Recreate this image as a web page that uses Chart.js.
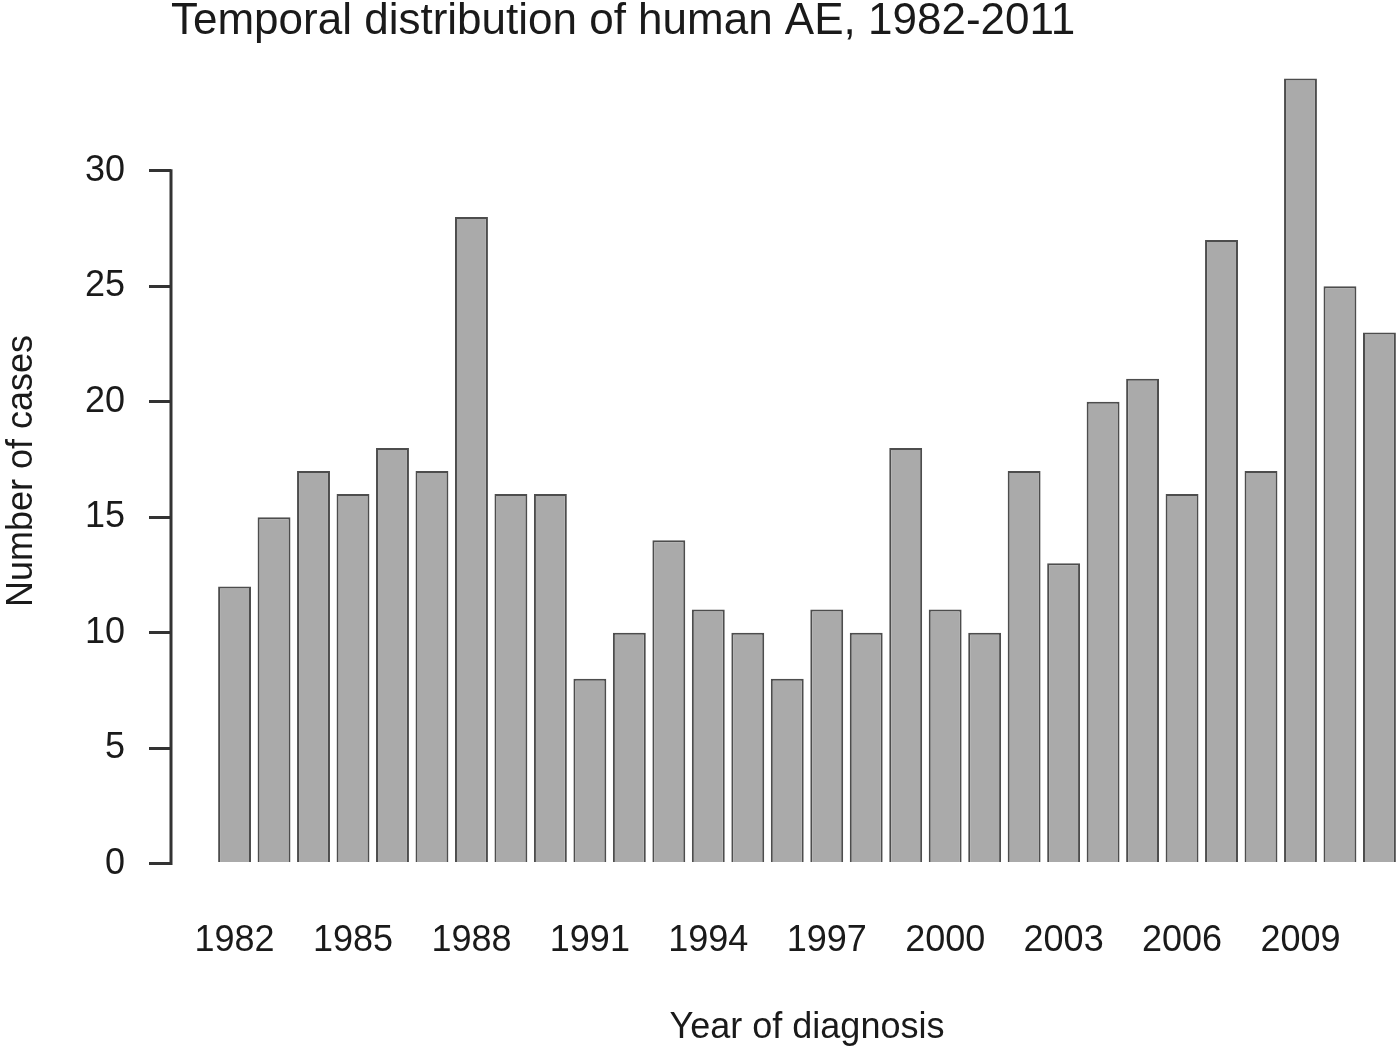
<!DOCTYPE html>
<html>
<head>
<meta charset="utf-8">
<title>Temporal distribution of human AE</title>
<script src="https://cdn.jsdelivr.net/npm/chart.js@4.4.1/dist/chart.umd.min.js"></script>
<style>
    html, body { margin: 0; padding: 0; background: #fff; overflow: hidden; width: 1400px; height: 1053px; }
    #aeChart { display: block; }
</style>
</head>
<body>
<canvas id="aeChart" width="1460" height="1053"></canvas>
<script>
var years = [1982, 1983, 1984, 1985, 1986, 1987, 1988, 1989, 1990, 1991,
             1992, 1993, 1994, 1995, 1996, 1997, 1998, 1999, 2000, 2001,
             2002, 2003, 2004, 2005, 2006, 2007, 2008, 2009, 2010, 2011];
var cases = [12, 15, 17, 16, 18, 17, 28, 16, 16, 8,
             10, 14, 11, 10, 8, 11, 10, 18, 11, 10,
             17, 13, 20, 21, 16, 27, 17, 34, 25, 23];
var xTickYears = [1982, 1985, 1988, 1991, 1994, 1997, 2000, 2003, 2006, 2009];
var yTicks = [0, 5, 10, 15, 20, 25, 30];

var fontFamily = "'Liberation Sans', Arial, Helvetica, sans-serif";
var textColor = '#1a1a1a';

// R style y axis: line only between first and last tick
var yAxisLine = {
    id: 'yAxisLine',
    afterDraw: function (chart) {
        var ctx = chart.ctx;
        var y = chart.scales.y;
        var x = chart.chartArea.left;
        ctx.save();
        ctx.strokeStyle = '#333';
        ctx.lineWidth = 3;
        ctx.beginPath();
        ctx.moveTo(x, y.getPixelForValue(yTicks[0]) + 1.5);
        ctx.lineTo(x, y.getPixelForValue(yTicks[yTicks.length - 1]) - 1.5);
        ctx.stroke();
        ctx.restore();
    }
};

var ctx = document.getElementById("aeChart").getContext('2d');
var myChart = new Chart(ctx, {
    type: 'bar',
    data: {
        datasets: [{
            label: 'Number of cases',
            data: years.map(function (yr, i) { return { x: yr, y: cases[i] }; }),
            backgroundColor: '#aaaaaa',
            borderColor: '#4d4d4d',
            borderWidth: 2,
            categoryPercentage: 1,
            barPercentage: 1 / 1.2 // R barplot default space = 0.2
        }]
    },
    options: {
        responsive: false,
        animation: false,
        layout: { padding: { left: 0, right: 17, top: 0, bottom: 0 } },
        plugins: {
            legend: { display: false },
            tooltip: { enabled: false },
            title: {
                display: true,
                text: 'Temporal distribution of human AE, 1982-2011',
                align: 'start',
                fullSize: false,
                color: textColor,
                font: { family: fontFamily, size: 44, weight: 'normal', lineHeight: 1 },
                padding: { top: 0, bottom: 3 }
            }
        },
        scales: {
            x: {
                type: 'linear',
                offset: false,
                min: 1980.39,
                max: 2012.61,
                grid: { display: false, drawTicks: false },
                border: { display: false },
                afterBuildTicks: function (scale) {
                    scale.ticks = xTickYears.map(function (v) { return { value: v }; });
                },
                afterFit: function (scale) { scale.height = 158; },
                ticks: {
                    autoSkip: false,
                    maxRotation: 0,
                    padding: 24,
                    color: textColor,
                    font: { family: fontFamily, size: 36 },
                    callback: function (v) { return String(v); }
                },
                title: {
                    display: true,
                    text: 'Year of diagnosis',
                    color: textColor,
                    font: { family: fontFamily, size: 36 },
                    padding: { top: 0, bottom: 3 }
                }
            },
            y: {
                min: -1.36,
                max: 35.36,
                grid: { drawOnChartArea: false, tickLength: 22, color: '#333', lineWidth: 3 },
                border: { display: false },
                afterBuildTicks: function (scale) {
                    scale.ticks = yTicks.map(function (v) { return { value: v }; });
                },
                afterFit: function (scale) { scale.width = 171; },
                ticks: {
                    padding: 24,
                    color: textColor,
                    font: { family: fontFamily, size: 36 },
                    callback: function (v) { return String(v); }
                },
                title: {
                    display: true,
                    text: 'Number of cases',
                    color: textColor,
                    font: { family: fontFamily, size: 36 },
                    padding: { top: 0, bottom: 0 }
                }
            }
        }
    },
    plugins: [yAxisLine]
});
</script>
</body>
</html>
